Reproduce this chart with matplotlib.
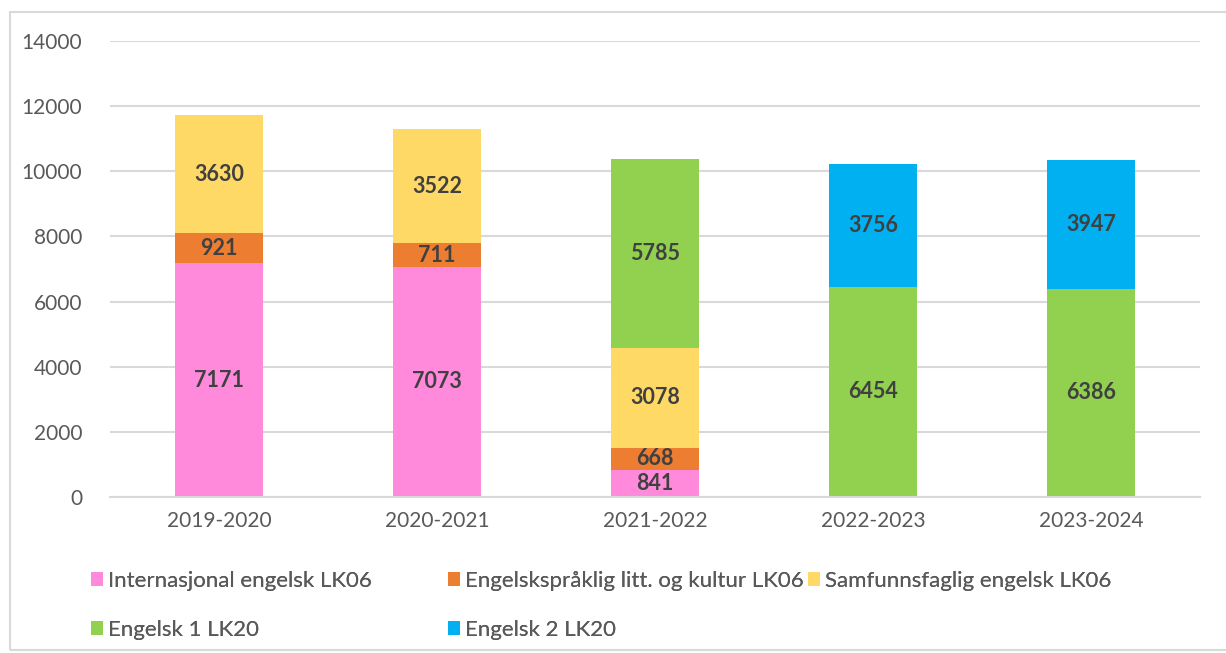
import matplotlib.pyplot as plt
from matplotlib.patches import Patch, Rectangle
import numpy as np

plt.rcParams['font.family'] = ['Lato', 'DejaVu Sans']

years = ['2019-2020', '2020-2021', '2021-2022', '2022-2023', '2023-2024']
series_names = ['Internasjonal engelsk LK06', 'Engelskspråklig litt. og kultur LK06',
                'Samfunnsfaglig engelsk LK06', 'Engelsk 1 LK20', 'Engelsk 2 LK20']
internasjonal = [7171, 7073, 841, 0, 0]
engelskspraklig = [921, 711, 668, 0, 0]
samfunnsfaglig = [3630, 3522, 3078, 0, 0]
engelsk1 = [0, 0, 5785, 6454, 6386]
engelsk2 = [0, 0, 0, 3756, 3947]
colors = ['#FF89DA', '#ED7D31', '#FFD966', '#92D050', '#00B0F0']

fig = plt.figure(figsize=(12.26, 6.53), dpi=100)
ax = fig.add_axes([110 / 1226, 156 / 653, 1090 / 1226, 456 / 653])

x = np.arange(len(years))
bottom = np.zeros(len(years))
for name, vals, col in zip(series_names,
                           [internasjonal, engelskspraklig, samfunnsfaglig, engelsk1, engelsk2],
                           colors):
    vals = np.array(vals, dtype=float)
    bars = ax.bar(x, vals, 0.4, bottom=bottom, color=col, label=name)
    labels = [str(int(v)) if v > 0 else '' for v in vals]
    ax.bar_label(bars, labels=labels, label_type='center', color='#404040',
                 fontsize=15.5, fontweight='bold')
    bottom += vals

ax.set_xlim(-0.5, len(years) - 0.5)
ax.set_ylim(0, 14000)
ax.set_yticks(range(0, 14001, 2000))
ax.set_xticks(x)
ax.set_xticklabels(years)
ax.tick_params(axis='both', length=0, labelsize=15, colors='#595959')
ax.tick_params(axis='y', pad=20)
ax.tick_params(axis='x', pad=10)
ax.grid(axis='y', color='#D9D9D9', linewidth=1.5)
ax.set_axisbelow(True)
for s in ['top', 'right', 'left']:
    ax.spines[s].set_visible(False)
ax.spines['bottom'].set_color('#D9D9D9')
ax.spines['bottom'].set_linewidth(1.5)

# legend, three columns placed like the original
handles = [Patch(facecolor=c) for c in colors]
cols = [([0, 3], 91), ([1, 4], 448), ([2], 808)]
for idx, px in cols:
    leg = fig.legend([handles[i] for i in idx], [series_names[i] for i in idx],
                     loc='upper left', bbox_to_anchor=(px / 1226, 1 - 571 / 653),
                     frameon=False, fontsize=16, labelcolor='#595959',
                     handlelength=0.55, handleheight=0.55, handletextpad=0.2,
                     labelspacing=1.3, borderaxespad=0, borderpad=0)
    fig.add_artist(leg)

fig.patches.append(Rectangle((10 / 1226, 3 / 653), 1.0, 638 / 653, transform=fig.transFigure,
                             fill=False, edgecolor='#D9D9D9', linewidth=1.5))

fig.savefig('out.png', dpi=100)
